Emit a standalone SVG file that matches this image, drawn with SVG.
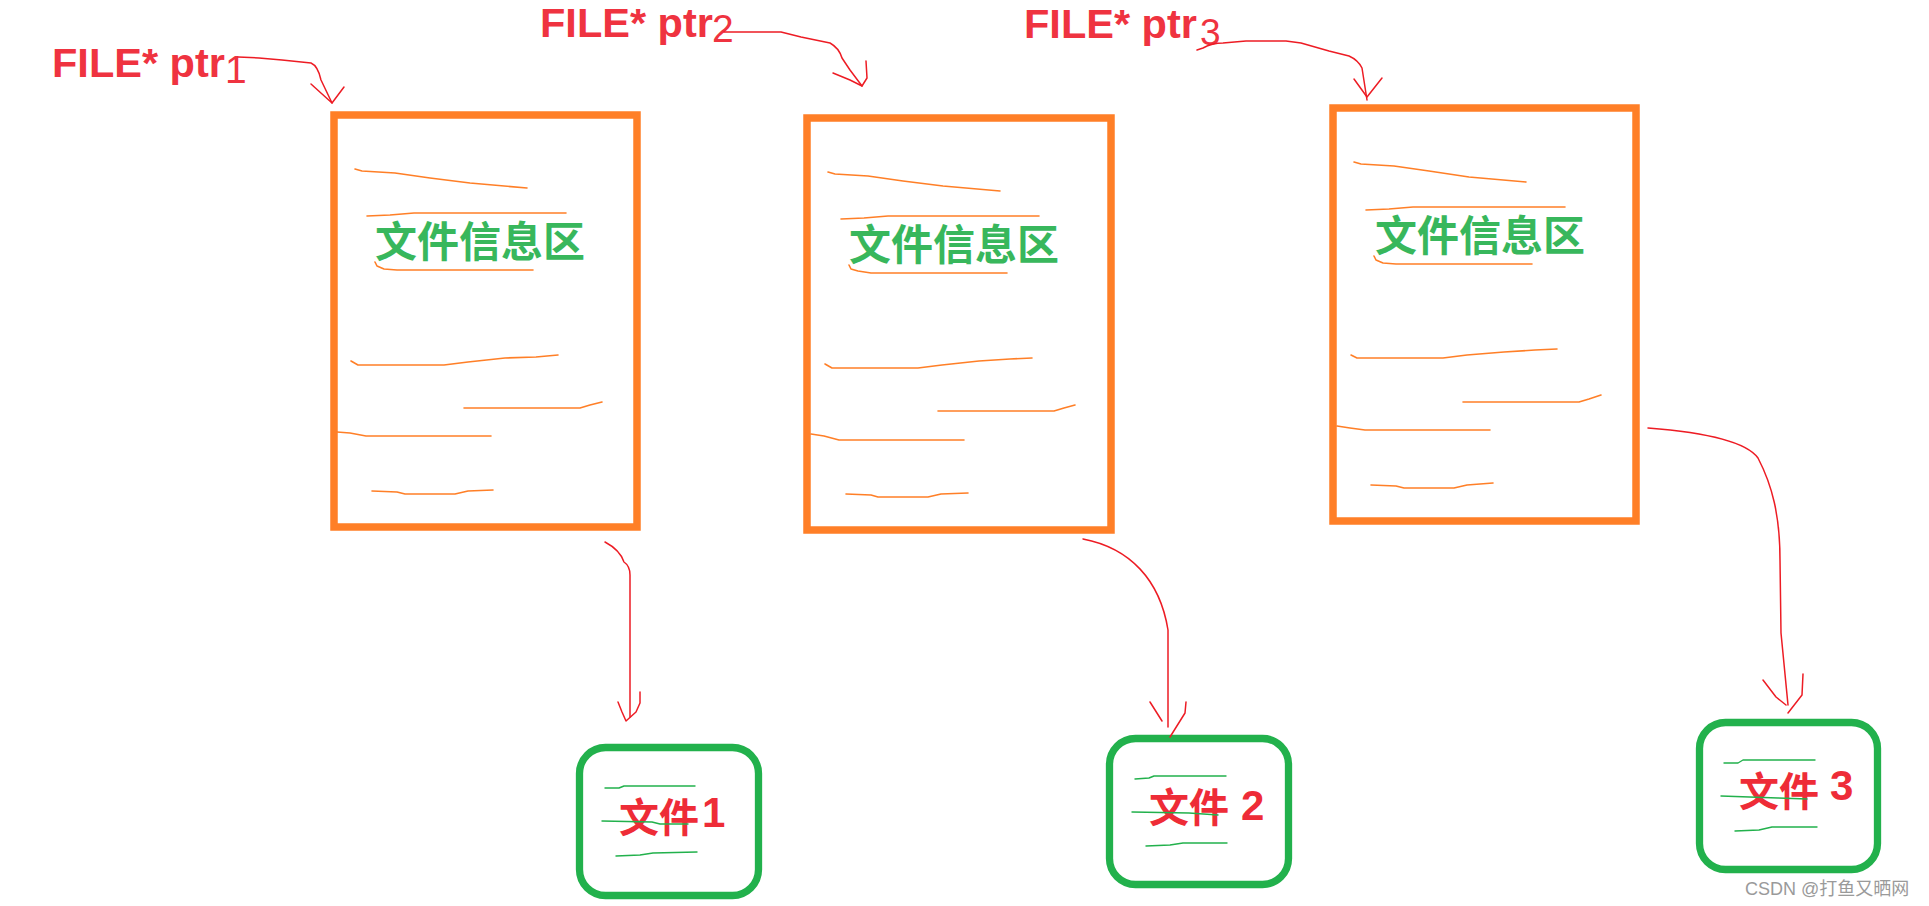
<svg xmlns="http://www.w3.org/2000/svg" width="1929" height="906" viewBox="0 0 1929 906">
<style>
.bg{fill:#ffffff}
.lbl{font-family:"Liberation Sans","Noto Sans CJK SC",sans-serif;font-weight:bold;font-size:41.5px;fill:#ef3340}
.dig{font-family:"Liberation Sans",sans-serif;font-weight:normal;font-size:39px;fill:#ef3340}
.box{fill:#ffffff;stroke:#ff7f27;stroke-width:7.5}
.info{font-family:"Noto Sans CJK SC",sans-serif;font-weight:bold;font-size:42px;fill:#38b75c}
.scr{fill:none;stroke:#ff7f27;stroke-width:1.6;stroke-linejoin:round;stroke-linecap:round}
.fbox{fill:#ffffff;stroke:#22b14c;stroke-width:7.3}
.ftxt{font-family:"Liberation Sans","Noto Sans CJK SC",sans-serif;font-weight:bold;font-size:40px;fill:#ee2c37}
.gscr{fill:none;stroke:#22b14c;stroke-width:1.4;stroke-linejoin:round;stroke-linecap:round}
.con{fill:none;stroke:#ed1c24;stroke-width:1.5;stroke-linejoin:round;stroke-linecap:round}
.wm{font-family:"Liberation Sans","Noto Sans CJK SC",sans-serif;font-size:18px;fill:#9a9a9a}
</style>
<rect class="bg" x="0" y="0" width="1929" height="906"/>

<g id="label-ptr1">
<text class="lbl" x="52" y="77">FILE* ptr</text>
<text class="dig" x="225" y="83">1</text>
</g>
<g id="label-ptr2">
<text class="lbl" x="540" y="37">FILE* ptr</text>
<text class="dig" x="712" y="42">2</text>
</g>
<g id="label-ptr3">
<text class="lbl" x="1024" y="38">FILE* ptr</text>
<text class="dig" x="1200" y="45" style="font-size:37px">3</text>
</g>

<g id="info-box-1">
<rect class="box" x="334" y="115" width="303" height="412"/>
<text class="info" x="375" y="257">文件信息区</text>
<path class="scr" d="M355,169 L362,171 L395,173 L430,178 L470,183 L527,188"/>
<path class="scr" d="M367,216 L390,215 L414,213 L566,213"/>
<path class="scr" d="M375,262 L377,266 L384,269 L397,270 L533,270"/>
<path class="scr" d="M351,361 L358,365 L444,365 L468,362 L505,358 L536,357 L558,355"/>
<path class="scr" d="M464,408 L580,408 L590,405 L602,402"/>
<path class="scr" d="M337,432 L350,433 L366,436 L491,436"/>
<path class="scr" d="M372,491 L397,492 L405,494 L455,494 L468,491 L493,490"/>
</g>

<g id="info-box-2">
<rect class="box" x="807" y="118" width="304" height="412"/>
<text class="info" x="849" y="260">文件信息区</text>
<path class="scr" d="M828,172 L835,174 L868,176 L903,181 L943,186 L1000,191"/>
<path class="scr" d="M841,219 L864,218 L888,216 L1039,216"/>
<path class="scr" d="M849,265 L851,269 L858,271 L871,273 L1007,273"/>
<path class="scr" d="M825,364 L832,368 L918,368 L942,365 L979,361 L1010,359 L1032,358"/>
<path class="scr" d="M938,411 L1054,411 L1064,408 L1075,405"/>
<path class="scr" d="M811,434 L824,436 L839,440 L964,440"/>
<path class="scr" d="M846,494 L871,495 L878,497 L928,497 L941,494 L968,493"/>
</g>

<g id="info-box-3">
<rect class="box" x="1333" y="108" width="303" height="413"/>
<text class="info" x="1375" y="251">文件信息区</text>
<path class="scr" d="M1354,162 L1361,164 L1394,166 L1429,171 L1469,177 L1526,182"/>
<path class="scr" d="M1366,210 L1389,209 L1413,207 L1565,207"/>
<path class="scr" d="M1374,256 L1376,260 L1383,263 L1396,264 L1532,264"/>
<path class="scr" d="M1351,355 L1357,358 L1443,358 L1467,355 L1504,352 L1535,350 L1557,349"/>
<path class="scr" d="M1463,402 L1579,402 L1589,399 L1601,395"/>
<path class="scr" d="M1337,426 L1350,428 L1365,430 L1490,430"/>
<path class="scr" d="M1371,485 L1396,486 L1404,488 L1454,488 L1467,485 L1493,483"/>
</g>

<g id="file-1">
<rect class="fbox" x="579.5" y="747.5" width="179" height="148" rx="26"/>
<text class="ftxt" x="619" y="832">文件</text>
<text class="ftxt" x="702" y="827" style="font-size:42px">1</text>
<path class="gscr" d="M605,788 L619,788 L624,786 L695,786"/>
<path class="gscr" d="M602,821 L652,822 L660,824 L688,824"/>
<path class="gscr" d="M616,856 L640,855 L653,853 L697,852"/>
</g>

<g id="file-2">
<rect class="fbox" x="1109.5" y="738.5" width="179" height="146" rx="26"/>
<text class="ftxt" x="1149" y="822">文件</text>
<text class="ftxt" x="1241" y="820" style="font-size:42px">2</text>
<path class="gscr" d="M1135,779 L1149,778 L1154,776 L1226,776"/>
<path class="gscr" d="M1132,812 L1189,813 L1218,815"/>
<path class="gscr" d="M1146,846 L1170,845 L1183,843 L1227,843"/>
</g>

<g id="file-3">
<rect class="fbox" x="1699.5" y="722.5" width="178" height="147" rx="26"/>
<text class="ftxt" x="1739" y="806">文件</text>
<text class="ftxt" x="1830" y="800" style="font-size:42px">3</text>
<path class="gscr" d="M1724,763 L1738,763 L1743,760 L1815,760"/>
<path class="gscr" d="M1721,796 L1778,798 L1807,799"/>
<path class="gscr" d="M1735,831 L1759,830 L1772,827 L1817,827"/>
</g>

<g id="connectors">
<path class="con" d="M238,57 L259,58 L282,60 L311,63 Q318,66 321,80 L332,103"/>
<path class="con" d="M311,84 L332,103 L344,87"/>
<path class="con" d="M724,32 L781,32 L801,37 L830,43 Q839,48 842,58 L850,70 L862,86"/>
<path class="con" d="M833,73 L850,80 L862,86 L867,78 L866,61"/>
<path class="con" d="M1197,50 L1203,48 Q1212,43 1223,43 L1246,41 L1286,41 L1301,43 L1329,51 L1349,56 Q1358,60 1362,68 L1367,100"/>
<path class="con" d="M1354,79 L1367,97 L1382,78"/>
<path class="con" d="M605,542 Q620,550 624,562 Q630,566 630,575 L630,717"/>
<path class="con" d="M618,702 L622,712 L626,721 L636,712 L640,703 L640,692"/>
<path class="con" d="M1083,539 C1130,548 1160,580 1168,630 L1168,727"/>
<path class="con" d="M1150,702 L1162,721 M1186,702 L1185,713 L1170,737"/>
<path class="con" d="M1648,428 C1700,432 1745,440 1758,458 C1772,485 1780,515 1780,560 L1781,633 L1788,705"/>
<path class="con" d="M1763,680 L1776,697 L1786,705 M1803,674 L1802,695 L1788,713"/>
</g>

<text class="wm" x="1745" y="895">CSDN @打鱼又晒网</text>
</svg>
